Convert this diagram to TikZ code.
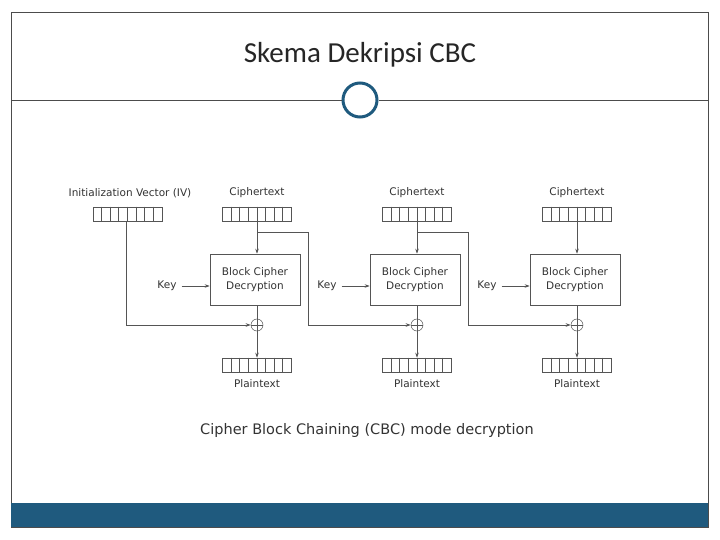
\documentclass[tikz,border=0pt]{standalone}
\usepackage{fontspec}
\setmainfont{Carlito}
\newfontfamily\djsans{DejaVu Sans}
\usetikzlibrary{arrows.meta}
\definecolor{bar}{HTML}{1F5A7E}
\definecolor{ln}{HTML}{555555}
\begin{document}
\begin{tikzpicture}[x=1pt,y=-1pt,
  reg/.style={draw=ln,line width=0.6pt,minimum width=69pt,minimum height=14pt,inner sep=0pt},
  box/.style={draw=ln,line width=0.6pt,minimum width=90pt,minimum height=51pt,align=center,font=\djsans\fontsize{10.5}{14}\selectfont,text=black!80},
  lab/.style={font=\djsans\fontsize{10.5}{12}\selectfont,text=black!80,inner sep=0pt},
  w/.style={draw=ln,line width=0.7pt},
  a/.style={w,-{Stealth[length=5pt,width=3.5pt]}},
  xr/.style={circle,draw=ln,line width=0.5pt,minimum size=12pt,inner sep=0pt,path picture={\draw[ln,line width=0.5pt] (path picture bounding box.north)--(path picture bounding box.south) (path picture bounding box.west)--(path picture bounding box.east);}}]
\useasboundingbox (0,0) rectangle (720,540);
\fill[white] (0,0) rectangle (720,540);
\draw[black!70,line width=0.6pt] (11,12) rectangle (708,527);
\fill[bar] (11,503) rectangle (708,527);
\node[font=\fontsize{29}{32}\selectfont,text=black!85] (title) at (360,55) {Skema Dekripsi CBC};
\node[circle,draw=bar,line width=3pt,minimum size=34pt,inner sep=0pt] (ring) at (360,100) {};
\coordinate (l0) at (11,100); \coordinate (r0) at (708,100);
\draw[black!70,line width=0.6pt] (l0) -- (ring.west) (ring.east) -- (r0);
% IV
\node[reg] (iv) at (127.5,214) {};
\foreach \i in {1,...,7}{\draw[ln,line width=0.4pt] ([xshift=\i*69/8]iv.north west) -- ([xshift=\i*69/8]iv.south west);}
\node[lab] (ivl) at (130,193) {Initialization Vector (IV)};
\foreach \k/\x in {1/257,2/417,3/577}{
  \node[reg] (c\k) at (\x,214) {};
  \node[reg] (p\k) at (\x,365) {};
  \foreach \i in {1,...,7}{\draw[ln,line width=0.4pt] ([xshift=\i*69/8]c\k.north west) -- ([xshift=\i*69/8]c\k.south west) ([xshift=\i*69/8]p\k.north west) -- ([xshift=\i*69/8]p\k.south west);}
  \node[lab] (cl\k) at (\x,193) {Ciphertext};
  \node[lab] (pl\k) at (\x,384) {Plaintext};
  \node[box] (b\k) at (\x-2,279.5) {Block Cipher\\Decryption};
  \node[xr] (x\k) at (\x,325) {};
  \node[lab] (k\k) at (\x-90,286) {Key};
  \draw[a] ([xshift=5pt]k\k.east) -- (b\k.west |- k\k.east);
  \draw[a] (c\k.south) -- (c\k.south |- b\k.north);
  \draw[w] (x\k.north |- b\k.south) -- (x\k.north);
  \draw[a] (x\k.south) -- (p\k.north);
}
\draw[a] (iv.south -| 126,0) |- (x1.west);
\coordinate (j1) at (308,232); \coordinate (j2) at (468,232);
\draw[w] (257,232) -- (j1);
\draw[a] (j1) |- (x2.west);
\draw[w] (417,232) -- (j2);
\draw[a] (j2) |- (x3.west);
\node[font=\djsans\fontsize{14.5}{18}\selectfont,text=black!80] (cap) at (367,430) {Cipher Block Chaining (CBC) mode decryption};
\end{tikzpicture}
\end{document}
